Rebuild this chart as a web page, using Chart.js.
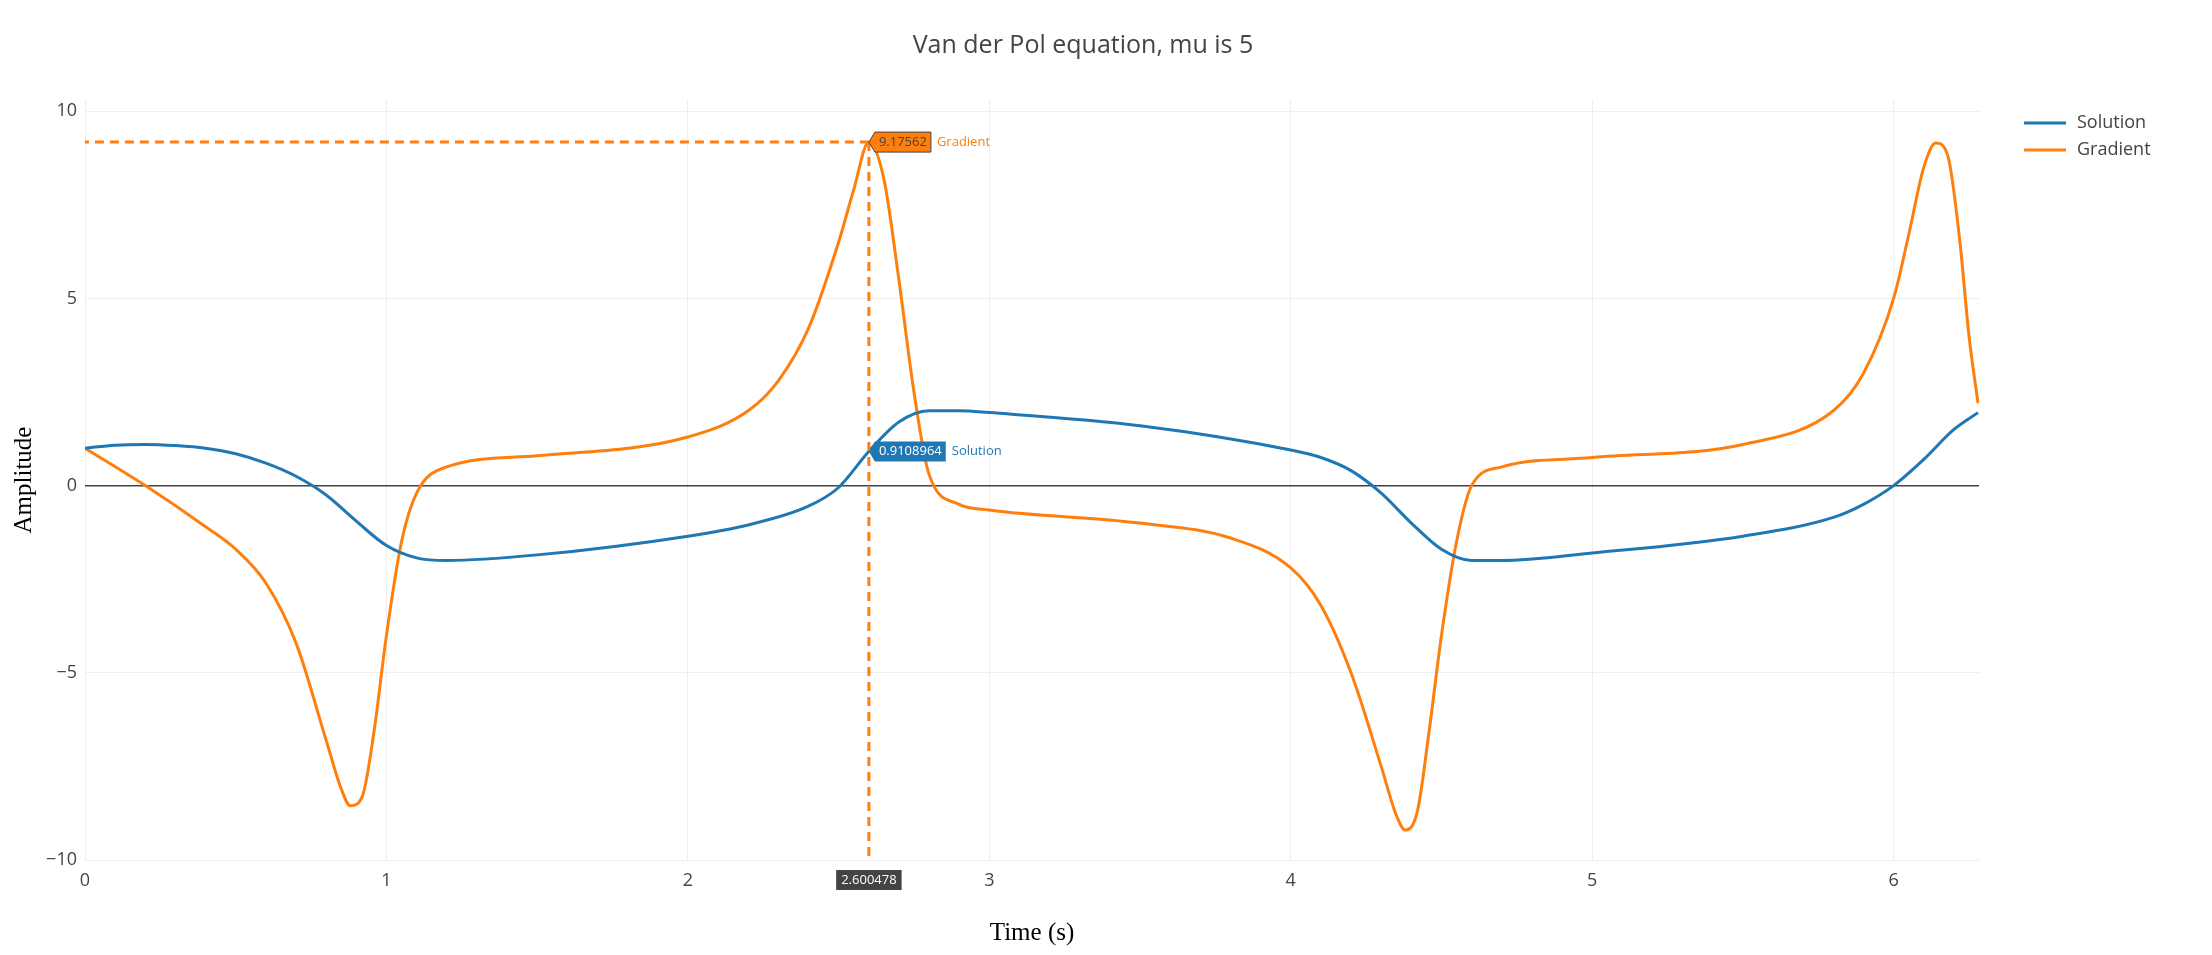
<!DOCTYPE html>
<html><head><meta charset="utf-8">
<script src="https://cdn.jsdelivr.net/npm/chart.js@4"></script>
<style>html,body{margin:0;padding:0;background:#fff}#wrap{width:2212px;height:955px}</style>
</head><body><div id="wrap"><canvas id="c" width="2212" height="955"></canvas></div>
<script>
const solT = [0,0.1,0.2,0.3,0.4,0.5,0.6,0.7,0.8,0.9,1.0,1.1,1.2,1.5,2.0,2.2,2.4,2.5,2.6,2.7,2.8,2.9,3.0,3.5,4.0,4.1,4.2,4.3,4.4,4.5,4.6,4.7,5.0,5.5,5.8,5.9,6.0,6.1,6.2,6.28];
const solV = [1.0,1.08,1.1,1.07,1.0,0.85,0.6,0.25,-0.25,-0.95,-1.6,-1.93,-2.0,-1.85,-1.35,-1.05,-0.55,-0.05,0.91,1.7,2.0,2.0,1.95,1.6,0.95,0.75,0.4,-0.2,-1.0,-1.7,-2.0,-2.0,-1.8,-1.35,-0.85,-0.5,0.0,0.7,1.5,1.95];
const gradT = [0,0.2,0.4,0.5,0.6,0.7,0.8,0.85,0.88,0.92,0.96,1.0,1.05,1.1,1.2,1.5,2.0,2.2,2.3,2.4,2.5,2.55,2.6,2.65,2.7,2.75,2.8,2.9,3.0,3.5,3.8,4.0,4.1,4.2,4.3,4.35,4.38,4.42,4.46,4.5,4.55,4.6,4.7,5.0,5.5,5.8,5.9,6.0,6.05,6.1,6.14,6.18,6.22,6.25,6.28];
const gradV = [1.0,0.0,-1.1,-1.7,-2.6,-4.2,-6.8,-8.1,-8.55,-8.3,-6.5,-4.0,-1.5,-0.2,0.5,0.8,1.3,2.0,2.8,4.2,6.5,7.9,9.17,8.2,5.5,2.5,0.3,-0.5,-0.65,-1.0,-1.4,-2.2,-3.2,-5.0,-7.5,-8.8,-9.2,-8.7,-6.5,-4.0,-1.5,0.0,0.5,0.75,1.1,2.0,3.0,5.0,6.7,8.5,9.15,8.8,6.5,4.0,2.2];
const xTicks = [0,1,2,3,4,5,6];
const yTicks = [-10,-5,0,5,10];
const hoverX = 2.600478, hoverG = 9.17562, hoverS = 0.9108964;
const BLUE='#1f77b4', ORANGE='#ff7f0e';

const deco = {
  id:'deco',
  afterDraw(ch){
    const c=ch.ctx, xs=ch.scales.x, ys=ch.scales.y, a=ch.chartArea;
    c.save();
    c.fillStyle='#444'; c.font='25px "Open Sans", sans-serif'; c.textAlign='center'; c.textBaseline='middle';
    c.fillText('Van der Pol equation, mu is 5', 1083, 46);
    c.font='25px "Liberation Serif", serif'; c.fillStyle='#000';
    c.fillText('Time (s)', (a.left+a.right)/2, 933);
    c.save(); c.translate(24,(a.top+a.bottom)/2); c.rotate(-Math.PI/2); c.fillText('Amplitude',0,0); c.restore();
    c.font='18px "Open Sans", sans-serif'; c.textAlign='left'; c.fillStyle='#444';
    [[BLUE,'Solution',123],[ORANGE,'Gradient',150]].forEach(([col,t,y])=>{
      c.strokeStyle=col; c.lineWidth=3; c.beginPath(); c.moveTo(2024,y); c.lineTo(2066,y); c.stroke();
      c.fillText(t,2077,y);
    });
    const px=xs.getPixelForValue(hoverX), pg=ys.getPixelForValue(hoverG), ps=ys.getPixelForValue(hoverS);
    c.strokeStyle=ORANGE; c.lineWidth=3; c.setLineDash([9,6]);
    c.beginPath(); c.moveTo(px,pg); c.lineTo(px,a.bottom); c.stroke();
    c.beginPath(); c.moveTo(px,pg); c.lineTo(a.left,pg); c.stroke();
    c.setLineDash([]);
    c.font='13px "Open Sans", sans-serif'; c.textBaseline='middle';
    function lbl(x,y,txt,bg,name,fg){
      const w=c.measureText(txt).width+8;
      c.fillStyle=bg; c.beginPath(); c.moveTo(x,y); c.lineTo(x+6,y-10); c.lineTo(x+6+w,y-10); c.lineTo(x+6+w,y+10); c.lineTo(x+6,y+10); c.closePath(); c.fill();
      c.strokeStyle='#444'; c.lineWidth=1; if(bg===ORANGE) c.stroke();
      c.fillStyle=fg; c.textAlign='left'; c.fillText(txt,x+10,y);
      c.fillStyle=bg; c.fillText(name,x+12+w,y);
    }
    lbl(px,pg,'9.17562',ORANGE,'Gradient','#444');
    lbl(px,ps,'0.9108964',BLUE,'Solution','#fff');
    const t='2.600478', w=c.measureText(t).width+10;
    c.fillStyle='#444'; c.fillRect(px-w/2,a.bottom+10,w,20);
    c.fillStyle='#fff'; c.textAlign='center'; c.fillText(t,px,a.bottom+20);
    c.restore();
  }
};

new Chart(document.getElementById('c'),{
  type:'line',
  data:{datasets:[
    {label:'Solution',data:solT.map((t,i)=>({x:t,y:solV[i]})),borderColor:BLUE,borderWidth:3,pointRadius:0,cubicInterpolationMode:'monotone'},
    {label:'Gradient',data:gradT.map((t,i)=>({x:t,y:gradV[i]})),borderColor:ORANGE,borderWidth:3,pointRadius:0,cubicInterpolationMode:'monotone'}
  ]},
  options:{
    responsive:false,animation:false,
    layout:{padding:{top:100,right:233,left:0,bottom:0}},
    plugins:{legend:{display:false},tooltip:{enabled:false}},
    scales:{
      x:{type:'linear',min:0,max:6.2832,
        afterBuildTicks:s=>{s.ticks=xTicks.map(v=>({value:v}));},
        afterFit:s=>{s.height=95;},
        grid:{color:'#eee',lineWidth:1,drawTicks:false},border:{display:false},
        ticks:{color:'#444',font:{size:18,family:'"Open Sans", sans-serif'},padding:10,maxRotation:0}},
      y:{min:-10,max:10.3,
        afterBuildTicks:s=>{s.ticks=yTicks.map(v=>({value:v}));},
        afterFit:s=>{s.width=85;},
        grid:{color:c=>c.tick&&c.tick.value===0?'#444':'#eee',lineWidth:c=>c.tick&&c.tick.value===0?1.5:1,drawTicks:false},border:{display:false},
        ticks:{color:'#444',font:{size:18,family:'"Open Sans", sans-serif'},padding:8,callback:v=>String(v).replace('-','\u2212')}}
    }
  },
  plugins:[deco]
});
</script></body></html>
